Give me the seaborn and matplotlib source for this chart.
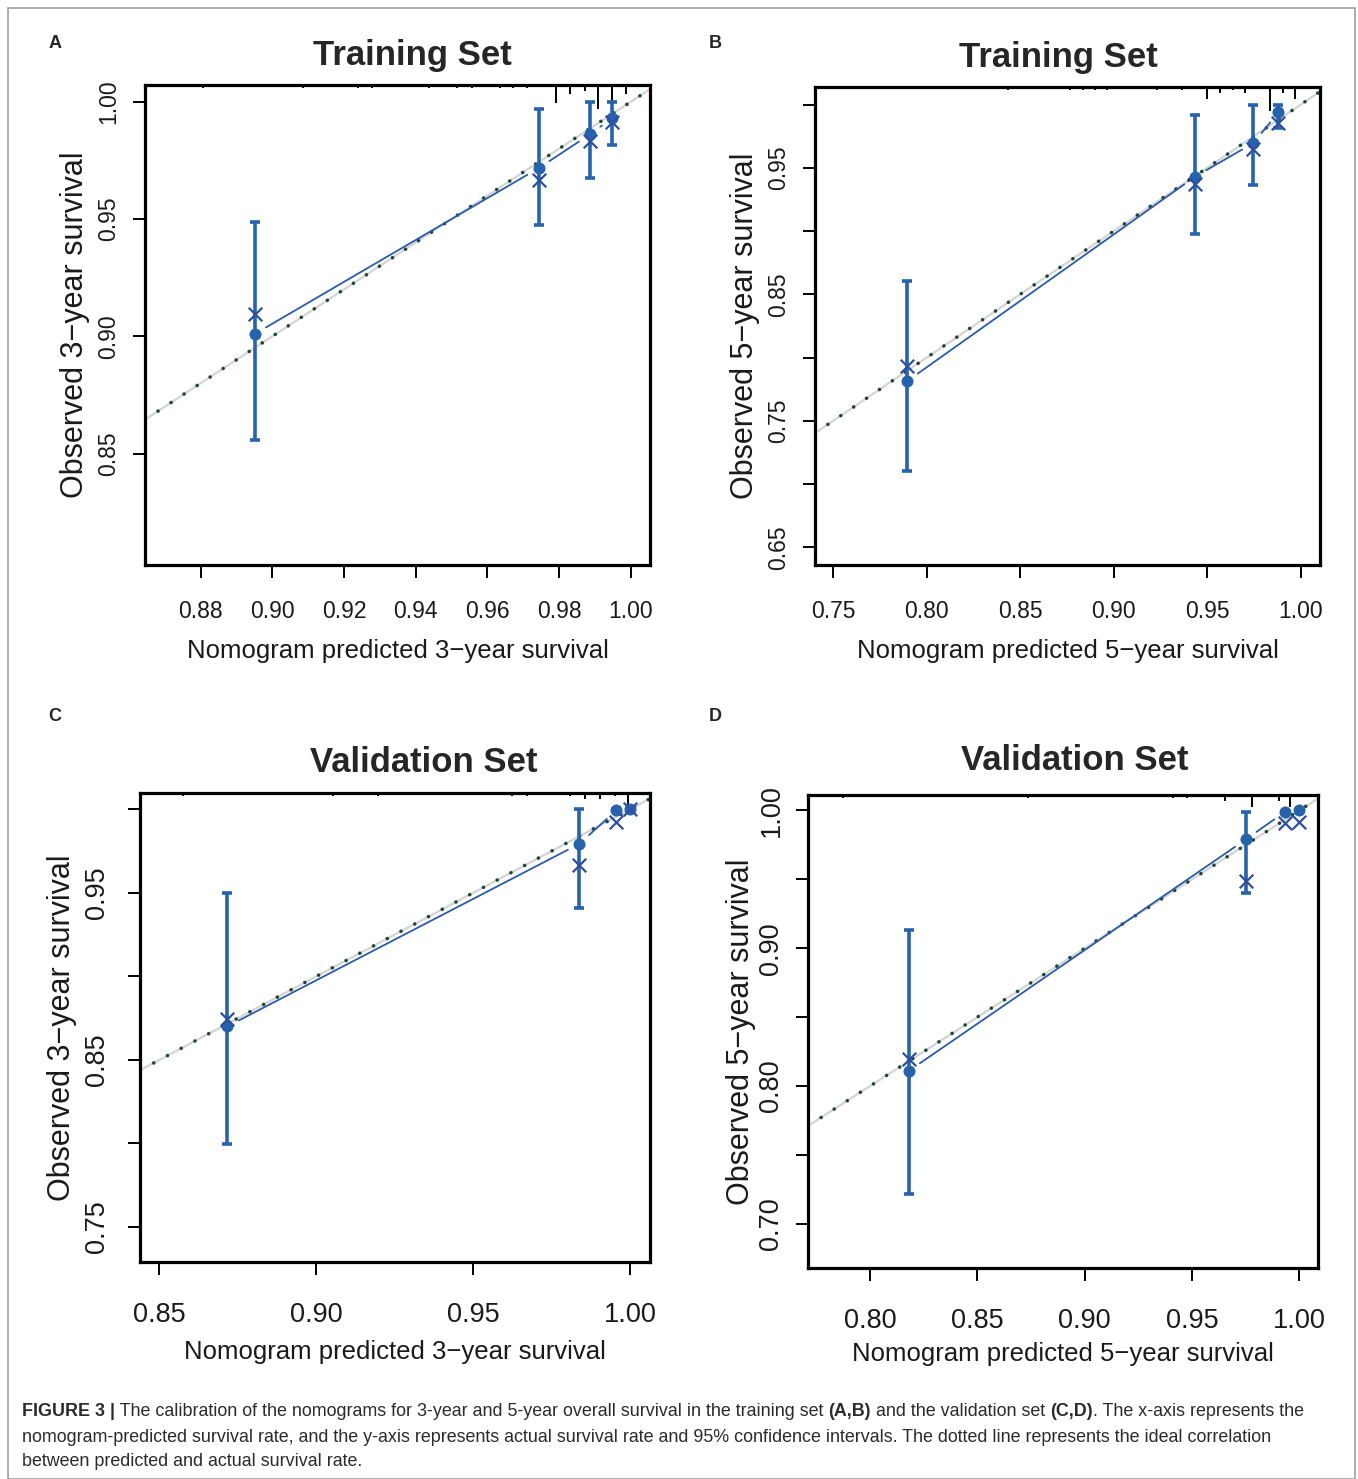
import numpy as np
import matplotlib
matplotlib.use("Agg")
import matplotlib.pyplot as plt
from matplotlib.patches import Rectangle
from matplotlib.offsetbox import TextArea, HPacker, AnnotationBbox
import seaborn as sns

# ---- data ----
# A: training set, 3-year
pred_a = [0.8951, 0.9743, 0.9886, 0.9949]
obs_a = [0.9010, 0.9717, 0.9861, 0.9932]
corr_a = [0.9096, 0.9665, 0.9834, 0.9914]
lo_a = [0.8558, 0.9476, 0.9674, 0.9816]
hi_a = [0.9489, 0.9968, 1.0000, 1.0000]
rug_x_a = [0.8808, 0.9087, 0.9240, 0.9278, 0.9436, 0.9515, 0.9557, 0.9635,
           0.9673, 0.9710, 0.9791, 0.9831, 0.9873, 0.9910, 0.9947, 0.9988]
rug_n_a = [1, 1, 1, 1, 1, 1, 1, 1, 1, 1, 6, 3, 2, 8, 6, 3]

# B: training set, 5-year
pred_b = [0.7896, 0.9435, 0.9748, 0.9882]
obs_b = [0.7814, 0.9430, 0.9697, 0.9940]
corr_b = [0.7930, 0.9374, 0.9647, 0.9857]
lo_b = [0.7100, 0.8975, 0.9367, 0.9817]
hi_b = [0.8606, 0.9917, 1.0000, 1.0000]
rug_x_b = [0.8437, 0.8767, 0.8838, 0.8901, 0.8963, 0.9230, 0.9364, 0.9498,
           0.9569, 0.9637, 0.9703, 0.9837, 0.9904, 0.9970]
rug_n_b = [1, 1, 1, 1, 1, 1, 1, 4, 2, 1, 2, 8, 2, 4]

# C: validation set, 3-year
pred_c = [0.8716, 0.9839, 0.9957, 1.0000]
obs_c = [0.8700, 0.9794, 0.9995, 1.0000]
corr_c = [0.8745, 0.9668, 0.9926, 1.0000]
lo_c = [0.7997, 0.9408, 0.9995, 1.0000]
hi_c = [0.9497, 1.0000, 1.0000, 1.0000]
rug_x_c = [0.8575, 0.9053, 0.9197, 0.9624, 0.9672, 0.9809, 0.9857, 0.9905,
           0.9952, 0.9995]
rug_n_c = [1, 1, 1, 1, 1, 1, 2, 2, 1, 5]

# D: validation set, 5-year
pred_d = [0.8182, 0.9751, 0.9933, 1.0000]
obs_d = [0.8112, 0.9790, 0.9990, 1.0000]
corr_d = [0.8198, 0.9490, 0.9910, 0.9917]
lo_d = [0.7219, 0.9400, 0.9990, 1.0000]
hi_d = [0.9130, 0.9990, 0.9990, 1.0000]
rug_x_d = [0.7873, 0.8737, 0.9413, 0.9476, 0.9655, 0.9780, 0.9904, 0.9958]
rug_n_d = [1, 1, 1, 1, 2, 4, 2, 4]

titles = ["Training Set", "Training Set", "Validation Set", "Validation Set"]
letters = ["A", "B", "C", "D"]
xlabels = ["Nomogram predicted 3\u2212year survival", "Nomogram predicted 5\u2212year survival",
           "Nomogram predicted 3\u2212year survival", "Nomogram predicted 5\u2212year survival"]
ylabels = ["Observed 3\u2212year survival", "Observed 5\u2212year survival",
           "Observed 3\u2212year survival", "Observed 5\u2212year survival"]

xticks_a = [0.88, 0.90, 0.92, 0.94, 0.96, 0.98, 1.00]
xticks_b = [0.75, 0.80, 0.85, 0.90, 0.95, 1.00]
xticks_c = [0.85, 0.90, 0.95, 1.00]
xticks_d = [0.80, 0.85, 0.90, 0.95, 1.00]
yticks_a = [0.85, 0.90, 0.95, 1.00]
ylabs_a = ["0.85", "0.90", "0.95", "1.00"]
yticks_b = [0.65, 0.70, 0.75, 0.80, 0.85, 0.90, 0.95, 1.00]
ylabs_b = ["0.65", "", "0.75", "", "0.85", "", "0.95", ""]
yticks_c = [0.75, 0.80, 0.85, 0.90, 0.95, 1.00]
ylabs_c = ["0.75", "", "0.85", "", "0.95", ""]
yticks_d = [0.70, 0.75, 0.80, 0.85, 0.90, 0.95, 1.00]
ylabs_d = ["0.70", "", "0.80", "", "0.90", "", "1.00"]

W, H = 1358, 1479
panels = [
    dict(pred=pred_a, obs=obs_a, corr=corr_a, lo=lo_a, hi=hi_a, rx=rug_x_a, rn=rug_n_a,
         xt=xticks_a, yt=yticks_a, yl=ylabs_a, xlim=(0.8645, 1.0054), ylim=(0.8025, 1.0072),
         box=(145, 85, 650, 565), title_xy=(412, 55), letter_xy=(55, 43),
         tsize=16.5, xpad=16.5, ypad=9, xlpad=11, ylpad=5),
    dict(pred=pred_b, obs=obs_b, corr=corr_b, lo=lo_b, hi=hi_b, rx=rug_x_b, rn=rug_n_b,
         xt=xticks_b, yt=yticks_b, yl=ylabs_b, xlim=(0.7403, 1.0104), ylim=(0.636, 1.014),
         box=(815, 87, 1320, 565), title_xy=(1058, 58), letter_xy=(715, 43),
         tsize=16.5, xpad=16.5, ypad=9, xlpad=11, ylpad=5),
    dict(pred=pred_c, obs=obs_c, corr=corr_c, lo=lo_c, hi=hi_c, rx=rug_x_c, rn=rug_n_c,
         xt=xticks_c, yt=yticks_c, yl=ylabs_c, xlim=(0.8438, 1.0064), ylim=(0.729, 1.0098),
         box=(140, 793, 650, 1262), title_xy=(424, 762), letter_xy=(55, 716),
         tsize=19.5, xpad=19.5, ypad=12.5, xlpad=9, ylpad=5),
    dict(pred=pred_d, obs=obs_d, corr=corr_d, lo=lo_d, hi=hi_d, rx=rug_x_d, rn=rug_n_d,
         xt=xticks_d, yt=yticks_d, yl=ylabs_d, xlim=(0.7711, 1.0087), ylim=(0.668, 1.0112),
         box=(808, 795, 1318, 1268), title_xy=(1075, 760), letter_xy=(715, 716),
         tsize=19.5, xpad=19.5, ypad=8, xlpad=6, ylpad=1.5),
]

sns.set_style("ticks")
plt.rcParams['font.family'] = ['Liberation Sans', 'DejaVu Sans']

BLUE = "#2763ad"
XBLUE = "#2c4f9e"
fig = plt.figure(figsize=(W / 100, H / 100), dpi=100)
fig.patch.set_facecolor("white")

for i, p in enumerate(panels):
    l, t, r, b = p['box']
    ax = fig.add_axes([l / W, 1 - b / H, (r - l) / W, (b - t) / H])
    ax.set_xlim(*p['xlim'])
    ax.set_ylim(*p['ylim'])

    # ideal line: light grey solid + dark dotted
    ax.axline((0.5, 0.5), slope=1, color="#d4d4d4", lw=1.6, zorder=1)
    ax.axline((0.5, 0.5), slope=1, color="#1e4636", lw=2.6,
              linestyle=(0, (0.01, 4.3)), dash_capstyle='round', zorder=2)

    # line through the apparent points, with gaps round each point (type="b")
    pts = ax.transData.transform(np.column_stack([p['pred'], p['obs']]))
    gap = 13
    for k in range(len(pts) - 1):
        p0, p1 = pts[k], pts[k + 1]
        d = p1 - p0
        dist = np.hypot(*d)
        if dist <= 2 * gap:
            continue
        u = d / dist
        seg = ax.transData.inverted().transform(np.array([p0 + u * gap, p1 - u * gap]))
        ax.plot(seg[:, 0], seg[:, 1], color="#2a5ba8", lw=1.3, zorder=3)

    lo = np.array(p['lo'])
    hi = np.array(p['hi'])
    ax.errorbar(p['pred'], (lo + hi) / 2, yerr=(hi - lo) / 2, fmt='none',
                ecolor=BLUE, elinewidth=2.6, capsize=3.8, capthick=2.6, zorder=4)
    sns.scatterplot(x=p['pred'], y=p['obs'], ax=ax, color=BLUE, s=75,
                    edgecolor=BLUE, linewidth=0, zorder=5)
    sns.scatterplot(x=p['pred'], y=p['corr'], ax=ax, color=XBLUE, marker='x',
                    s=95, linewidth=1.6, zorder=6)

    # rug of predicted values along the top
    unit = 3.0 / (b - t)
    ax.vlines(p['rx'], 1 - np.array(p['rn']) * unit, 1, transform=ax.get_xaxis_transform(),
              color="black", lw=1.4, zorder=2)

    ax.set_xticks(p['xt'])
    ax.set_xticklabels([f"{v:.2f}" for v in p['xt']])
    ax.set_yticks(p['yt'])
    ax.set_yticklabels(p['yl'], rotation=90, va='center')
    ax.tick_params(axis='both', direction='out', length=9, width=1.4,
                   labelsize=p['tsize'], color='black', labelcolor='#1a1a1a')
    ax.tick_params(axis='x', pad=p['xpad'])
    ax.tick_params(axis='y', pad=p['ypad'])
    for s in ax.spines.values():
        s.set_visible(True)
        s.set_linewidth(2.3)
        s.set_color('black')
    ax.set_xlabel(xlabels[i], fontsize=18.5, labelpad=p['xlpad'], color='#1a1a1a')
    ax.set_ylabel(ylabels[i], fontsize=22, labelpad=p['ylpad'], color='#1a1a1a')

    tx, ty = p['title_xy']
    fig.text(tx / W, 1 - ty / H, titles[i], fontsize=25, fontweight='bold',
             ha='center', va='center')
    lx, ly = p['letter_xy']
    fig.text(lx / W, 1 - ly / H, letters[i], fontsize=13, fontweight='bold',
             ha='center', va='center')

# caption
cap_size = 12.9
cap_col = "#2b2b2b"
pieces = [("FIGURE 3 |", 'bold'),
          (" The calibration of the nomograms for 3-year and 5-year overall survival in the training set ", 'normal'),
          ("(A,B)", 'bold'), (" and the validation set ", 'normal'), ("(C,D)", 'bold'),
          (". The x-axis represents the", 'normal')]
boxes = [TextArea(txt, textprops=dict(fontsize=cap_size, fontweight=w, color=cap_col))
         for txt, w in pieces]
line1 = HPacker(children=boxes, align='baseline', pad=0, sep=0)
ab = AnnotationBbox(line1, (22 / W, 1 - 1412 / H), xycoords='figure fraction',
                    box_alignment=(0, 0.5), frameon=False, pad=0)
fig.add_artist(ab)
fig.text(22 / W, 1 - 1437 / H,
         "nomogram-predicted survival rate, and the y-axis represents actual survival rate "
         "and 95% confidence intervals. The dotted line represents the ideal correlation",
         fontsize=cap_size, color=cap_col, ha='left', va='center')
fig.text(22 / W, 1 - 1462 / H, "between predicted and actual survival rate.",
         fontsize=cap_size, color=cap_col, ha='left', va='center')

# thin frame round the whole figure
fig.add_artist(Rectangle((8 / W, 0.5 / H), (1355 - 8) / W, (1471 - 0.5) / H,
                         transform=fig.transFigure, fill=False, edgecolor="#a0a0a0", lw=1.2))

fig.savefig("out.png", dpi=100)
